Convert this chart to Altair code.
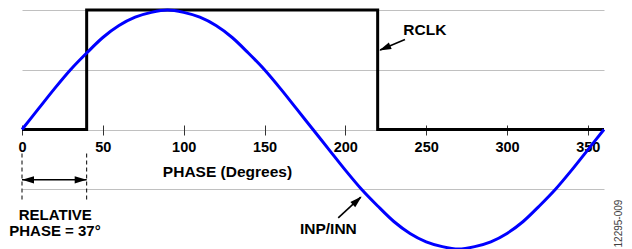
import altair as alt
import pandas as pd

# ---- data ----
phase_deg = list(range(0, 361, 10))
inp_inn = [0, 0.17, 0.34, 0.5, 0.64, 0.77, 0.87, 0.94, 0.98, 1.0,
           0.98, 0.94, 0.87, 0.77, 0.64, 0.5, 0.34, 0.17, 0,
           -0.17, -0.34, -0.5, -0.64, -0.77, -0.87, -0.94, -0.98, -1.0,
           -0.98, -0.94, -0.87, -0.77, -0.64, -0.5, -0.34, -0.17, 0]
rclk_phase = [0, 40, 40, 220, 220, 360]
rclk_level = [0, 0, 1, 1, 0, 0]
x_ticks = [0, 50, 100, 150, 200, 250, 300, 350]
grid_levels = [-0.5, 0, 0.5, 1]
rel_phase_marks = [0, 40]

labels_text = ["RCLK", "INP/INN", "PHASE (Degrees)", "RELATIVE", "PHASE = 37°"]
labels_x = [235.9, 189.5, 127.1, 20.6, 20.4]
labels_y = [0.834, -0.831, -0.357, -0.712, -0.852]
labels_align = ["left", "center", "center", "center", "center"]
labels_size = [15.5, 15.5, 15.5, 15, 15]

FONT = "Liberation Sans"
xs = alt.Scale(domain=[0, 360], nice=False, zero=False)
ys = alt.Scale(domain=[-1, 1], nice=False, zero=False)

sine_df = pd.DataFrame({"x": phase_deg, "y": inp_inn})
sq_df = pd.DataFrame({"x": rclk_phase, "y": rclk_level, "i": list(range(len(rclk_phase)))})

x_axis = alt.Axis(values=x_ticks, offset=-124, tickSize=10, tickColor="#333333",
                  tickWidth=1, domain=False, grid=False, labelFont=FONT,
                  labelFontWeight="bold", labelFontSize=14.5, labelColor="black",
                  labelPadding=5, labelFlush=False, labelOverlap=False, title=None)
y_axis = alt.Axis(values=grid_levels, grid=True, gridColor="#c0c0c0", gridWidth=1,
                  domain=False, ticks=False, labels=False, title=None)

square = alt.Chart(sq_df).mark_line(color="black", strokeWidth=3, strokeJoin="miter").encode(
    x=alt.X("x:Q", scale=xs, axis=x_axis),
    y=alt.Y("y:Q", scale=ys, axis=y_axis),
    order="i:Q",
)

sine = alt.Chart(sine_df).mark_line(color="#0000ff", strokeWidth=3, interpolate="monotone").encode(
    x=alt.X("x:Q", scale=xs, title=None),
    y=alt.Y("y:Q", scale=ys, title=None),
)

# dashed markers for the relative phase
dash_df = pd.DataFrame({"x": rel_phase_marks, "y": [-0.201] * 2, "y2": [-0.608] * 2})
dashes = alt.Chart(dash_df).mark_rule(color="black", strokeWidth=1, strokeDash=[4, 3]).encode(
    x=alt.X("x:Q", scale=xs, title=None),
    y=alt.Y("y:Q", scale=ys, title=None),
    y2="y2:Q",
)

# arrow shafts
shaft_df = pd.DataFrame({
    "x": [0, 236.9, 195.6],
    "x2": [40, 221.5, 209.5],
    "y": [-0.421, 0.753, -0.739],
    "y2": [-0.421, 0.665, -0.566],
})
shafts = alt.Chart(shaft_df).mark_rule(color="black", strokeWidth=1.6).encode(
    x=alt.X("x:Q", scale=xs, title=None),
    x2="x2:Q",
    y=alt.Y("y:Q", scale=ys, title=None),
    y2="y2:Q",
)

# arrow heads (tip at the point)
head_df = pd.DataFrame({
    "x": [0, 40, 221.0, 210.1],
    "y": [-0.421, -0.421, 0.661, -0.561],
    "angle": [270, 90, 246.3, 47.7],
})
heads = alt.Chart(head_df).mark_point(
    shape="M0,0L-0.6,2L0.6,2Z", filled=True, color="black", opacity=1,
    size=144, strokeWidth=0,
).encode(
    x=alt.X("x:Q", scale=xs, title=None),
    y=alt.Y("y:Q", scale=ys, title=None),
    angle=alt.Angle("angle:Q", scale=None),
)

lab_df = pd.DataFrame({"t": labels_text, "x": labels_x, "y": labels_y,
                       "a": labels_align, "s": labels_size})
lab_left = alt.Chart(lab_df[lab_df.a == "left"]).mark_text(
    font=FONT, fontWeight="bold", color="black", align="left", baseline="middle"
).encode(x=alt.X("x:Q", scale=xs, title=None), y=alt.Y("y:Q", scale=ys, title=None),
         text="t:N", size=alt.Size("s:Q", scale=None, legend=None))
lab_center = alt.Chart(lab_df[lab_df.a == "center"]).mark_text(
    font=FONT, fontWeight="bold", color="black", align="center", baseline="middle"
).encode(x=alt.X("x:Q", scale=xs, title=None), y=alt.Y("y:Q", scale=ys, title=None),
         text="t:N", size=alt.Size("s:Q", scale=None, legend=None))

code_df = pd.DataFrame({"t": ["12295-009"], "x": [369.3], "y": [-0.787]})
code = alt.Chart(code_df).mark_text(
    font=FONT, fontSize=10, color="#404040", angle=270, align="center", baseline="middle"
).encode(x=alt.X("x:Q", scale=xs, title=None), y=alt.Y("y:Q", scale=ys, title=None), text="t:N")

chart = alt.layer(square, dashes, shafts, heads, sine, lab_left, lab_center, code).properties(
    width=582, height=239,
    padding={"left": 14, "top": 2, "right": 20, "bottom": 0},
    autosize=alt.AutoSizeParams(type="none"),
).configure_view(strokeWidth=0)

chart.save("out.html", embed_options={"renderer": "svg", "actions": False})
